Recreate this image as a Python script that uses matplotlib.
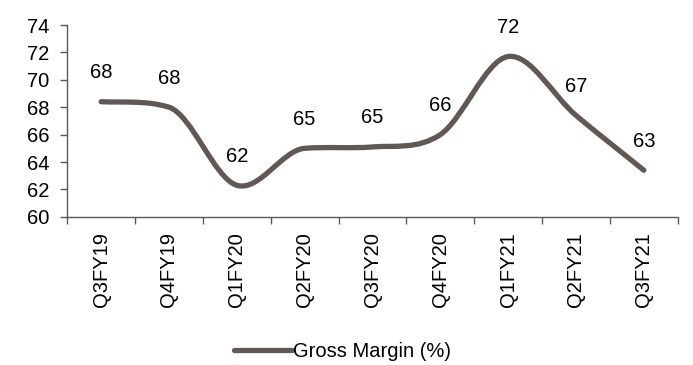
import numpy as np
import matplotlib
matplotlib.use('Agg')
import matplotlib.pyplot as plt
from matplotlib.path import Path
from matplotlib.patches import PathPatch
from matplotlib.lines import Line2D

plt.rcParams['font.family'] = ['Liberation Sans', 'DejaVu Sans']

quarters = ['Q3FY19', 'Q4FY19', 'Q1FY20', 'Q2FY20', 'Q3FY20',
            'Q4FY20', 'Q1FY21', 'Q2FY21', 'Q3FY21']
gross_margin = [68.4, 68.0, 62.3, 65.0, 65.1, 66.0, 71.7, 67.4, 63.4]

line_col = '#5f5854'
axis_col = '#595959'
fs = 14.5

fig = plt.figure(figsize=(6.93, 3.65), dpi=100)
ax = fig.add_axes([0.097, 0.406, 0.881, 0.5255])

# smoothed line: cubic hermite with catmull-rom tangents,
# tangents limited so the curve doesn't bulge past short steps
x = np.arange(len(gross_margin), dtype=float)
y = np.array(gross_margin)
d = np.diff(y)
m = np.zeros_like(y)
m[0] = d[0] / 2
m[-1] = d[-1]
m[1:-1] = (y[2:] - y[:-2]) / 2
for i in range(1, len(y) - 1):
    lim = 3.8 * min(abs(d[i - 1]), abs(d[i]))
    m[i] = np.clip(m[i], -lim, lim)

verts = [(x[0], y[0])]
codes = [Path.MOVETO]
for i in range(len(y) - 1):
    verts += [(x[i] + 1 / 3, y[i] + m[i] / 3),
              (x[i + 1] - 1 / 3, y[i + 1] - m[i + 1] / 3),
              (x[i + 1], y[i + 1])]
    codes += [Path.CURVE4] * 3
patch = PathPatch(Path(verts, codes), facecolor='none', edgecolor=line_col,
                  lw=3.8, capstyle='round', joinstyle='round')
ax.add_patch(patch)

for xi, yi in zip(x, y):
    ax.annotate('%d' % round(yi), (xi, yi), xytext=(0, 21), textcoords='offset points',
                ha='center', va='center', fontsize=fs, color='black')

ax.set_xlim(-0.5, len(quarters) - 0.5)
ax.set_ylim(60, 74)
ax.set_yticks(np.arange(60, 75, 2))
ax.set_xticks(x)
ax.set_xticklabels(quarters, rotation=90, fontsize=fs)
ax.set_xticks(np.arange(-0.5, len(quarters), 1), minor=True)
ax.tick_params(axis='x', which='major', length=0, pad=11)
ax.tick_params(axis='x', which='minor', length=5, width=1, color=axis_col, direction='out')
ax.tick_params(axis='y', length=5, width=1, color=axis_col, direction='out', labelsize=fs, pad=8)

for s in ['top', 'right']:
    ax.spines[s].set_visible(False)
for s in ['left', 'bottom']:
    ax.spines[s].set_color(axis_col)
    ax.spines[s].set_linewidth(1)

handle = Line2D([], [], color=line_col, lw=3.8, solid_capstyle='round')
fig.legend([handle], ['Gross Margin (%)'], loc='center', bbox_to_anchor=(0.494, 0.038),
           frameon=False, fontsize=fs, handlelength=2.9, handletextpad=0.05)

fig.savefig('out.png', dpi=100)
